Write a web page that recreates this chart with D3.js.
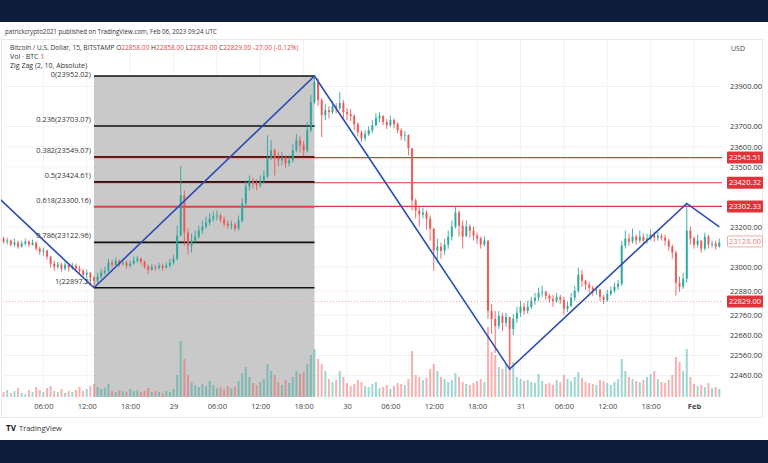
<!DOCTYPE html>
<html><head><meta charset="utf-8">
<script src="https://cdn.jsdelivr.net/npm/d3@7"></script>
<style>body{margin:0;background:#fff;} svg{display:block;font-family:"Open Sans","Noto Sans",sans-serif;}</style>
</head><body><svg id="c" width="768" height="463"></svg>
<script>
// ---------- DATA ----------
const firstCandle = "2023-01-28T00:30:00Z"; // 30-min candles
const firstOpen = 23142;
const closes = [23127,23132,23112,23122,23102,23117,23127,23112,23122,23092,
23077,23082,23052,23017,23002,23012,22992,23012,22997,23007,
22992,22982,22962,22972,22947,22932,22952,22972,22982,23022,
23012,23032,23017,23022,23007,23017,23032,23042,23027,23002,
22987,23002,22997,23007,22997,23007,23022,23042,23157,23357,
23172,23107,23132,23152,23182,23202,23222,23242,23252,23257,
23237,23217,23207,23212,23192,23232,23317,23402,23432,23417,
23407,23432,23452,23542,23582,23542,23532,23547,23517,23532,
23582,23632,23607,23582,23682,23822,23922,23832,23757,23782,
23772,23802,23792,23817,23772,23762,23752,23712,23672,23642,
23662,23682,23707,23742,23752,23722,23707,23732,23712,23682,
23652,23657,23592,23332,23282,23262,23272,23242,23192,23082,
23102,23082,23112,23152,23202,23272,23207,23152,23202,23182,
23157,23142,23112,23132,22782,22742,22707,22757,22722,22752,
22692,22742,22772,22802,22782,22802,22832,22847,22872,22877,
22857,22842,22832,22852,22837,22792,22807,22847,22882,22962,
22932,22912,22897,22882,22887,22852,22837,22867,22882,22902,
22917,23107,23142,23127,23152,23132,23152,23132,23142,23162,
23147,23157,23147,23132,23102,23072,22922,22902,22942,23182,
23142,23112,23132,23092,23152,23112,23117,23102,23122];
const highs = [23152,23147,23137,23142,23132,23132,23142,23132,23137,23127,
23102,23097,23087,23057,23032,23027,23022,23027,23022,23022,
23017,23007,22992,22987,22977,22957,22972,22992,23002,23042,
23037,23047,23037,23042,23032,23032,23052,23057,23047,23032,
23012,23017,23012,23022,23017,23022,23042,23062,23207,23502,
23382,23192,23167,23182,23207,23232,23252,23267,23277,23282,
23267,23252,23232,23232,23222,23257,23342,23432,23457,23447,
23437,23457,23482,23657,23632,23592,23572,23572,23557,23557,
23612,23662,23652,23627,23722,23857,23952,23942,23842,23812,
23802,23827,23817,23872,23832,23792,23787,23762,23722,23682,
23682,23702,23732,23767,23772,23757,23737,23752,23742,23722,
23692,23677,23662,23592,23342,23302,23297,23282,23257,23192,
23142,23122,23142,23182,23232,23302,23282,23232,23232,23212,
23202,23172,23152,23152,23132,22817,22782,22782,22772,22772,
22752,22767,22802,22832,22822,22832,22852,22872,22897,22907,
22882,22867,22862,22872,22862,22852,22827,22872,22907,22997,
22987,22937,22927,22907,22907,22892,22862,22887,22902,22922,
22937,23132,23182,23167,23192,23162,23182,23167,23167,23187,
23177,23177,23167,23162,23142,23112,23082,22952,22972,23317,
23202,23152,23162,23132,23172,23162,23132,23132,23142];
const lows = [23117,23112,23102,23102,23092,23097,23107,23102,23107,23082,
23062,23057,23037,22997,22982,22992,22977,22982,22977,22987,
22977,22962,22947,22942,22932,22897,22922,22942,22962,22977,
22997,23007,23002,23007,22992,22997,23012,23022,23012,22992,
22967,22982,22982,22987,22982,22992,22997,23012,23032,23152,
23107,23062,23072,23122,23142,23167,23192,23207,23227,23232,
23222,23202,23192,23187,23177,23182,23222,23307,23382,23392,
23382,23397,23417,23442,23532,23457,23502,23507,23492,23502,
23522,23572,23572,23552,23572,23672,23812,23802,23647,23732,
23742,23762,23767,23782,23742,23732,23727,23682,23652,23622,
23627,23652,23667,23702,23722,23707,23687,23697,23692,23667,
23632,23627,23557,23282,23242,23202,23242,23187,23132,22982,
23022,23042,23062,23092,23132,23192,23152,23092,23162,23147,
23132,23117,23092,23102,22742,22667,22572,22692,22682,22702,
22492,22662,22722,22752,22762,22767,22792,22812,22832,22852,
22837,22822,22802,22822,22817,22762,22777,22802,22832,22872,
22902,22887,22872,22857,22862,22832,22817,22827,22857,22872,
22887,22907,23092,23107,23117,23112,23122,23112,23117,23132,
23127,23132,23132,23107,23082,23042,22857,22877,22892,22922,
23112,23092,23097,23072,23082,23092,23097,23087,23097];
const volumes = [50,70,40,60,90,40,30,70,50,100,
70,50,90,110,60,50,80,40,60,50,
70,100,60,80,110,130,100,80,90,130,
60,50,70,60,50,80,60,70,50,60,
90,50,60,50,40,60,50,80,220,560,
380,220,150,120,100,130,110,160,120,90,
100,80,110,90,100,160,240,300,200,140,
120,150,180,330,260,220,150,120,170,140,
200,260,230,250,330,420,480,380,330,260,
180,150,170,260,200,140,110,130,170,150,
110,100,130,150,90,100,120,80,110,140,
130,120,180,460,220,200,170,190,280,330,
260,200,180,150,170,240,200,150,130,120,
140,160,180,150,700,450,420,300,280,330,
680,350,200,180,160,170,150,140,230,160,
130,140,120,170,150,220,180,160,200,250,
190,150,140,130,120,170,160,140,120,150,
180,380,260,200,180,160,150,170,200,230,
260,180,150,140,170,220,400,350,260,480,
200,130,110,120,100,140,90,100,80];

const timeTicks = ["2023-01-28T06:00Z","2023-01-28T12:00Z","2023-01-28T18:00Z","2023-01-29T00:00Z",
"2023-01-29T06:00Z","2023-01-29T12:00Z","2023-01-29T18:00Z","2023-01-30T00:00Z",
"2023-01-30T06:00Z","2023-01-30T12:00Z","2023-01-30T18:00Z","2023-01-31T00:00Z",
"2023-01-31T06:00Z","2023-01-31T12:00Z","2023-01-31T18:00Z","2023-02-01T00:00Z"];
const timeLabels = ["06:00","12:00","18:00","29","06:00","12:00","18:00","30","06:00","12:00","18:00","31","06:00","12:00","18:00","Feb"];
const priceTicks = [23900,23700,23600,23500,23200,23000,22880,22760,22660,22560,22460];

const fibRatios = [0,0.236,0.382,0.5,0.618,0.786,1];
const fibPrices = [23952.02,23703.07,23549.07,23424.61,23300.16,23122.96,22897.2];
const fibColors = ["#111","#111","#5a1414","#2a0c0c","#d84848","#111","#111"];
const fibStart = "2023-01-28T13:00Z", fibEnd = "2023-01-29T19:30Z";

const zigTimes = ["2023-01-27T21:00Z","2023-01-28T13:00Z","2023-01-29T19:30Z","2023-01-30T22:30Z","2023-01-31T23:00Z","2023-02-01T03:30Z"];
const zigPrices = [23440,22897.2,23952.02,22492,23317,23200];

const hLinePrices = [23545.51,23420.32,23302.33];
const lastPrice = 22829.00;
const closeMark = 23128.00;

// ---------- LAYOUT ----------
const svg = d3.select("#c");
const plotR = 722, plotT = 40, plotB = 397;
const x = d3.scaleUtc().domain([new Date("2023-01-28T00:00:00Z"), new Date("2023-02-01T00:00:00Z")]).range([0, 694]);
const y = d3.scaleLinear().domain([22460, 23952.02]).range([375.5, 76]);
const yv = d3.scaleLinear().domain([0, 1000]).range([plotB, plotB - 100]);
const t0 = new Date(firstCandle).getTime();
const candles = closes.map((c, i) => ({
  t: new Date(t0 + i * 1800000),
  o: i === 0 ? firstOpen : closes[i - 1], h: highs[i], l: lows[i], c, v: volumes[i]
}));
const UP = "#26a69a", DN = "#ef5350";

svg.append("rect").attr("width", 768).attr("height", 463).attr("fill", "#fff");
svg.append("rect").attr("width", 768).attr("height", 22).attr("fill", "#0c1c3a");
svg.append("rect").attr("y", 440).attr("width", 768).attr("height", 23).attr("fill", "#0c1c3a");

const defs = svg.append("defs");
defs.append("clipPath").attr("id", "clip").append("rect").attr("x", 1).attr("y", plotT).attr("width", plotR - 1).attr("height", plotB - plotT);

svg.append("rect").attr("x", 1.5).attr("y", 39.5).attr("width", 761).attr("height", 378).attr("fill", "none").attr("stroke", "#e6e8ee");

const plot = svg.append("g").attr("clip-path", "url(#clip)");
plot.selectAll(".vg").data(timeTicks).join("line")
  .attr("x1", d => x(new Date(d))).attr("x2", d => x(new Date(d)))
  .attr("y1", plotT).attr("y2", plotB).attr("stroke", "#f1f3f7");
plot.selectAll(".hg").data(priceTicks).join("line")
  .attr("x1", 0).attr("x2", plotR).attr("y1", d => y(d)).attr("y2", d => y(d)).attr("stroke", "#f1f3f7");

plot.append("rect").attr("x", x(new Date(fibStart))).attr("y", y(fibPrices[0]))
  .attr("width", x(new Date(fibEnd)) - x(new Date(fibStart))).attr("height", plotB - y(fibPrices[0]))
  .attr("fill", "#c9c9c9");

plot.selectAll(".hl").data(hLinePrices).join("line")
  .attr("x1", x(new Date(fibStart))).attr("x2", plotR + 5).attr("y1", d => y(d)).attr("y2", d => y(d))
  .attr("stroke", "#e0393a").attr("stroke-width", 1.2);
plot.append("line").attr("x1", 0).attr("x2", plotR).attr("y1", y(lastPrice)).attr("y2", y(lastPrice))
  .attr("stroke", "#f0a0a0").attr("stroke-dasharray", "1,2");

plot.selectAll(".vol").data(candles).join("rect")
  .attr("x", d => x(d.t) - 1).attr("width", 2)
  .attr("y", d => yv(d.v)).attr("height", d => plotB - yv(d.v))
  .attr("fill", d => d.c >= d.o ? UP : DN).attr("opacity", 0.45);

plot.selectAll(".fib").data(fibPrices).join("line")
  .attr("x1", x(new Date(fibStart))).attr("x2", x(new Date(fibEnd)))
  .attr("y1", d => y(d)).attr("y2", d => y(d))
  .attr("stroke", (d, i) => fibColors[i]).attr("stroke-width", 1.6);

const cg = plot.selectAll(".cd").data(candles).join("g");
cg.append("line").attr("x1", d => x(d.t)).attr("x2", d => x(d.t))
  .attr("y1", d => y(d.h)).attr("y2", d => y(d.l))
  .attr("stroke", d => d.c >= d.o ? UP : DN).attr("stroke-width", 1).attr("opacity", 0.85);
cg.append("rect").attr("x", d => x(d.t) - 1).attr("width", 2)
  .attr("y", d => y(Math.max(d.o, d.c))).attr("height", d => Math.max(1, Math.abs(y(d.o) - y(d.c))))
  .attr("fill", d => d.c >= d.o ? UP : DN).attr("opacity", 0.9);

const zz = zigTimes.map((t, i) => [x(new Date(t)), y(zigPrices[i])]);
plot.append("path").attr("d", d3.line()(zz)).attr("fill", "none").attr("stroke", "#2b4bb5").attr("stroke-width", 1.6);

svg.selectAll(".fl").data(fibPrices).join("text")
  .attr("x", x(new Date(fibStart)) - 3).attr("y", (d, i) => i === 0 ? y(d) + 1 : y(d) - 4)
  .attr("text-anchor", "end").attr("font-size", 7.4).attr("fill", "#333")
  .text((d, i) => fibRatios[i] + "(" + d + ")");

// ---------- AXES ----------
const ya = svg.append("g").attr("transform", `translate(726,0)`)
  .call(d3.axisRight(y).tickValues(priceTicks).tickSize(0).tickPadding(4).tickFormat(d3.format(".2f")));
ya.select(".domain").remove();
ya.selectAll("text").attr("font-size", 7.5).attr("fill", "#333").attr("font-family", '"Open Sans",sans-serif');

const xa = svg.append("g").attr("transform", `translate(0,${plotB})`)
  .call(d3.axisBottom(x).tickValues(timeTicks.map(d => new Date(d))).tickSize(0).tickPadding(7)
    .tickFormat((d, i) => timeLabels[i]));
xa.select(".domain").remove();
xa.selectAll("text").attr("font-size", 7.5).attr("fill", "#444").attr("font-family", '"Open Sans",sans-serif')
  .attr("font-weight", (d, i) => timeLabels[i] === "Feb" ? 700 : 400);

svg.append("text").attr("x", 731).attr("y", 51).attr("font-size", 7).attr("fill", "#444").text("USD");

const tags = hLinePrices.concat([lastPrice]);
const tg = svg.selectAll(".tag").data(tags).join("g").attr("transform", d => `translate(727,${y(d)})`);
tg.append("rect").attr("x", 0).attr("y", -6).attr("width", 36).attr("height", 12).attr("rx", 1).attr("fill", "#e2333b");
tg.append("text").attr("x", 18).attr("y", 0).attr("dy", "0.35em").attr("text-anchor", "middle")
  .attr("font-size", 7.5).attr("fill", "#fff").text(d => d3.format(".2f")(d));
const cm = svg.append("g").attr("transform", `translate(727,${y(closeMark)})`);
cm.append("rect").attr("x", 0.5).attr("y", -5.5).attr("width", 35).attr("height", 11).attr("rx", 1).attr("fill", "#fff").attr("stroke", "#f2a9a9");
cm.append("text").attr("x", 18).attr("dy", "0.35em").attr("text-anchor", "middle").attr("font-size", 7.5).attr("fill", "#ef7a7a").text(d3.format(".2f")(closeMark));

// ---------- TEXTS ----------
svg.append("text").attr("x", 5).attr("y", 34).attr("font-size", 7).attr("fill", "#333")
  .attr("textLength", 212).attr("lengthAdjust", "spacingAndGlyphs")
  .text("patrickcrypto2021 published on TradingView.com, Feb 06, 2023 09:24 UTC");
const l1 = svg.append("text").attr("x", 10).attr("y", 50).attr("font-size", 6.6).attr("fill", "#333");
l1.append("tspan").text("Bitcoin / U.S. Dollar, 15, BITSTAMP ");
const ohlc = [["O", "22858.00"], ["H", "22858.00"], ["L", "22824.00"], ["C", "22829.00"]];
ohlc.forEach(([k, v]) => { l1.append("tspan").attr("fill", "#333").text(" " + k); l1.append("tspan").attr("fill", "#e04848").text(v); });
l1.append("tspan").attr("fill", "#e04848").text(" -27.00 (-0.12%)");
const l2 = svg.append("text").attr("x", 10).attr("y", 59).attr("font-size", 7).attr("fill", "#333");
l2.append("tspan").text("Vol · BTC ");
l2.append("tspan").attr("fill", "#e04848").text(" 1");
svg.append("text").attr("x", 10).attr("y", 67.5).attr("font-size", 7).attr("fill", "#333").text("Zig Zag (2, 10, Absolute)");

svg.append("text").attr("x", 6).attr("y", 431).attr("font-size", 8).attr("font-weight", 700).attr("fill", "#131722").text("TV");
svg.append("text").attr("x", 19).attr("y", 431).attr("font-size", 7.5).attr("fill", "#333").text("TradingView");
</script></body></html>
